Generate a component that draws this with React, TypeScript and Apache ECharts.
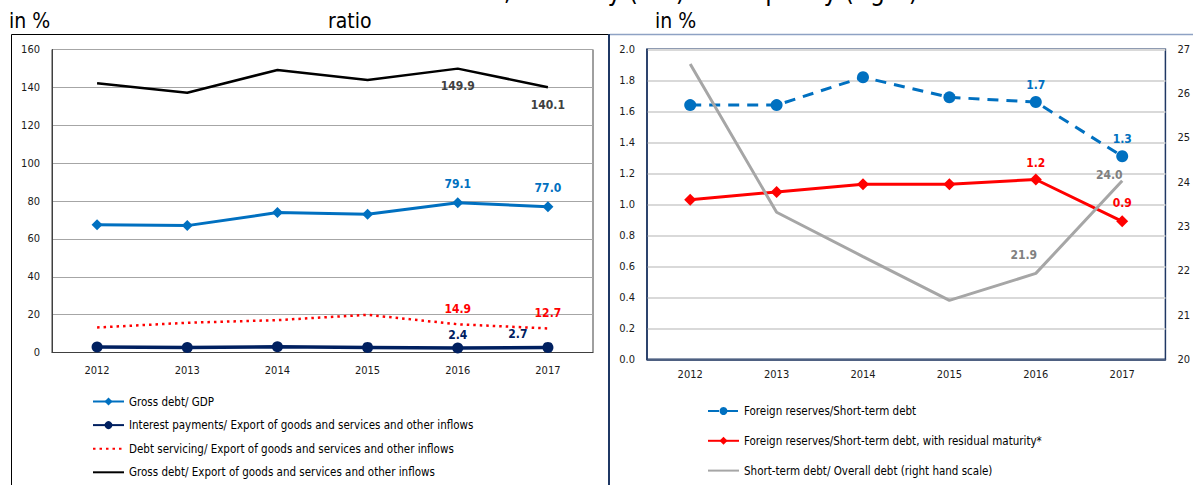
import React, { useEffect, useRef } from "react";
import * as echarts from "echarts";

const years = ["2012", "2013", "2014", "2015", "2016", "2017"];

// Left panel (in %)
const grossDebtGdp = [67.4, 67.0, 73.9, 73.0, 79.1, 77.0];
const interestPayments = [2.9, 2.6, 3.0, 2.7, 2.4, 2.7];
const debtServicing = [13.2, 15.7, 17.1, 19.9, 14.9, 12.7];
const grossDebtExport = [142.2, 137.2, 149.2, 143.9, 149.9, 140.1];

// Right panel (ratio, left scale; in %, right scale)
const reservesStDebt = [1.64, 1.64, 1.82, 1.69, 1.66, 1.31];
const reservesResidual = [1.03, 1.08, 1.13, 1.13, 1.16, 0.89];
const stDebtShare = [26.67, 23.32, 22.32, 21.33, 21.94, 24.03];

const leftTicks = { min: 0, max: 160, interval: 20 };
const rightTicksL = { min: 0, max: 2, interval: 0.2 };
const rightTicksR = { min: 20, max: 27, interval: 1 };

const labelledIdx = [4, 5];

const FONT = '"DejaVu Sans Condensed", "DejaVu Sans", sans-serif';

function withLabels(values: number[], base: any, overrides: Record<number, any> = {}) {
  return values.map((v, i) =>
    labelledIdx.includes(i)
      ? { value: v, label: { show: true, ...base, ...(overrides[i] || {}) } }
      : { value: v }
  );
}

const lblStyle = (color: string) => ({
  color,
  fontWeight: "bold",
  fontSize: 12,
  fontFamily: FONT,
  formatter: (p: any) => Number(p.value).toFixed(1),
});

const hidden = { opacity: 0 };

export default function App() {
  const ref = useRef<HTMLDivElement>(null);
  useEffect(() => {
    if (!ref.current) return;
    const chart = echarts.init(ref.current, undefined, { renderer: "svg" });
    const axisLabel = { fontSize: 11, color: "#1a1a1a", fontFamily: FONT };
    const option: any = {
      animation: false,
      textStyle: { fontFamily: FONT },
      grid: [
        { left: 52, top: 49.5, width: 541, height: 303, show: true, borderColor: "#404040", borderWidth: 1, backgroundColor: "transparent" },
        { left: 647, top: 49.3, width: 524, height: 310, show: true, borderColor: "#203864", borderWidth: 1.5, backgroundColor: "transparent" },
      ],
      xAxis: [
        {
          gridIndex: 0, type: "category", data: years, boundaryGap: true,
          axisTick: { show: false }, axisLine: { lineStyle: { color: "#404040" } },
          axisLabel: { ...axisLabel, margin: 12 },
        },
        {
          gridIndex: 1, type: "category", data: years, boundaryGap: true,
          axisTick: { show: false }, axisLine: { lineStyle: { color: "#203864", width: 1.5 } },
          axisLabel: { ...axisLabel, margin: 10 },
        },
      ],
      yAxis: [
        {
          gridIndex: 0, type: "value", ...leftTicks,
          axisLine: { show: true, lineStyle: { color: "#404040" } }, axisTick: { show: false },
          splitLine: { lineStyle: { color: "#a6a6a6" } },
          axisLabel: { ...axisLabel, margin: 12 },
        },
        {
          gridIndex: 1, type: "value", ...rightTicksL,
          axisLine: { show: true, lineStyle: { color: "#203864", width: 1.5 } }, axisTick: { show: false },
          splitLine: { lineStyle: { color: "#d9d9d9", width: 2 } },
          axisLabel: { ...axisLabel, margin: 12, formatter: (v: number) => v.toFixed(1) },
        },
        {
          gridIndex: 1, type: "value", position: "right", ...rightTicksR,
          axisLine: { show: false }, axisTick: { show: false }, splitLine: { show: false },
          axisLabel: { ...axisLabel, margin: 12, align: "left" },
        },
      ],
      legend: [
        {
          data: [
            { name: "Gross debt/ GDP" },
            { name: "Interest payments/ Export of goods and services and other inflows" },
            { name: "Debt servicing/ Export of goods and services and other inflows", itemStyle: hidden },
            { name: "Gross debt/ Export of goods and services and other inflows", itemStyle: hidden },
          ],
          orient: "vertical", left: 92, top: 395.5, padding: 0,
          itemWidth: 31, itemHeight: 10, itemGap: 11.6,
          textStyle: { fontSize: 11.5, color: "#000", fontFamily: FONT },
        },
        {
          data: [
            { name: "Foreign reserves/Short-term debt" },
            { name: "Foreign reserves/Short-term debt, with residual maturity*" },
            { name: "Short-term debt/ Overall debt (right hand scale)", itemStyle: hidden },
          ],
          orient: "vertical", left: 707, top: 405, padding: 0,
          itemWidth: 31, itemHeight: 10, itemGap: 17.8,
          textStyle: { fontSize: 11.5, color: "#000", fontFamily: FONT },
        },
      ],
      series: [
        {
          name: "Gross debt/ GDP", type: "line", xAxisIndex: 0, yAxisIndex: 0,
          data: withLabels(grossDebtGdp, { position: "top", distance: 7, ...lblStyle("#0070C0") }),
          symbol: "diamond", symbolSize: 11,
          lineStyle: { color: "#0070C0", width: 3 }, itemStyle: { color: "#0070C0" },
        },
        {
          name: "Interest payments/ Export of goods and services and other inflows", type: "line", xAxisIndex: 0, yAxisIndex: 0,
          data: withLabels(interestPayments, { position: "top", distance: 1.5, ...lblStyle("#002060") }, { 5: { offset: [-30, 0] } }),
          symbol: "circle", symbolSize: 11,
          lineStyle: { color: "#002060", width: 3.5 }, itemStyle: { color: "#002060" },
        },
        {
          name: "Debt servicing/ Export of goods and services and other inflows", type: "line", xAxisIndex: 0, yAxisIndex: 0,
          data: withLabels(debtServicing, { position: "top", distance: 9, ...lblStyle("#FF0000") }),
          symbol: "circle", symbolSize: 0,
          lineStyle: { color: "#FF0000", width: 2.5, type: [2.5, 4] }, itemStyle: { color: "#FF0000" },
        },
        {
          name: "Gross debt/ Export of goods and services and other inflows", type: "line", xAxisIndex: 0, yAxisIndex: 0,
          data: withLabels(grossDebtExport, { position: "bottom", distance: 11, ...lblStyle("#404040") }, { 5: { distance: 12 } }),
          symbol: "circle", symbolSize: 0,
          lineStyle: { color: "#000000", width: 2.5 }, itemStyle: { color: "#000000" },
        },
        {
          name: "Foreign reserves/Short-term debt", type: "line", xAxisIndex: 1, yAxisIndex: 1,
          data: withLabels(reservesStDebt, { position: "top", distance: 5, ...lblStyle("#0070C0") }),
          symbol: "circle", symbolSize: 12,
          lineStyle: { color: "#0070C0", width: 3, type: [11, 8] }, itemStyle: { color: "#0070C0" },
        },
        {
          name: "Foreign reserves/Short-term debt, with residual maturity*", type: "line", xAxisIndex: 1, yAxisIndex: 1,
          data: withLabels(reservesResidual, { position: "top", distance: 5, ...lblStyle("#FF0000") }, { 5: { distance: 6 } }),
          symbol: "diamond", symbolSize: 12,
          lineStyle: { color: "#FF0000", width: 3 }, itemStyle: { color: "#FF0000" },
        },
        {
          name: "Short-term debt/ Overall debt (right hand scale)", type: "line", xAxisIndex: 1, yAxisIndex: 2,
          data: withLabels(stDebtShare, { position: "top", distance: 12, ...lblStyle("#808080") }, { 4: { offset: [-12, 0] }, 5: { distance: 0, offset: [-13, 0] } }),
          symbol: "circle", symbolSize: 0,
          lineStyle: { color: "#A6A6A6", width: 3 }, itemStyle: { color: "#A6A6A6" },
        },
      ],
      graphic: [
        { type: "rect", shape: { x: 11.5, y: 34.5, width: 597, height: 480 }, style: { fill: "none", stroke: "#000", lineWidth: 1 }, silent: true },
        { type: "line", shape: { x1: 609, y1: 34, x2: 609, y2: 485 }, style: { stroke: "#1f3864", lineWidth: 2 }, silent: true },
        { type: "line", shape: { x1: 610, y1: 34.5, x2: 1193, y2: 34.5 }, style: { stroke: "#8ea2c4", lineWidth: 1.5 }, silent: true },
        { type: "text", x: 9, y: 21, style: { text: "in %", font: `21px ${FONT}`, fill: "#000", verticalAlign: "middle" }, silent: true },
        { type: "text", x: 328, y: 21, style: { text: "ratio", font: `21px ${FONT}`, fill: "#000", verticalAlign: "middle" }, silent: true },
        { type: "text", x: 655, y: 21, style: { text: "in %", font: `21px ${FONT}`, fill: "#000", verticalAlign: "middle" }, silent: true },
        { type: "text", x: 918, y: 4, style: { text: "Gross external debt, solvency (left) and liquidity (right)", font: `26px ${FONT}`, fill: "#000", align: "right", verticalAlign: "bottom" }, silent: true },
      ],
    };
    chart.setOption(option);
    return () => chart.dispose();
  }, []);
  return (
    <div
      ref={ref}
      style={{ position: "fixed", left: 0, top: 0, width: 1193, height: 485, background: "#fff" }}
    />
  );
}
